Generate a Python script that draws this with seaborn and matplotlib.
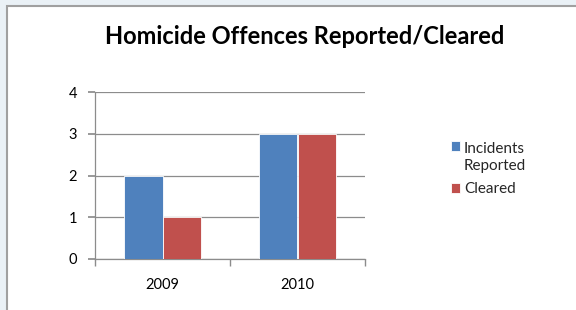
import matplotlib
matplotlib.use("Agg")
import matplotlib.pyplot as plt
import seaborn as sns
import pandas as pd
from matplotlib.patches import Rectangle

years = ["2009", "2010"]
series = ["Incidents\nReported", "Cleared"]
reported = [2, 3]
cleared = [1, 3]
colors = ["#4F81BD", "#C0504D"]

df = pd.DataFrame({
    "Year": years * 2,
    "Series": [series[0]] * 2 + [series[1]] * 2,
    "Value": reported + cleared,
})

sns.set_theme(style="white")
plt.rcParams["font.family"] = ["Lato", "DejaVu Sans"]

W, H = 576, 310
fig = plt.figure(figsize=(W / 100, H / 100), dpi=100)
fig.patch.set_facecolor("#EAF1F6")
fig.patches.append(Rectangle((6.5 / W, -0.1), 1.2, 1 - 5.5 / H + 0.1, transform=fig.transFigure,
                             facecolor="white", edgecolor="#A0A0A0", linewidth=1.5, zorder=-10))

ax = fig.add_axes([95 / W, 1 - 259 / H, 270 / W, 167 / H])
ax.set_facecolor("none")
sns.barplot(data=df, x="Year", y="Value", hue="Series", palette=colors, ax=ax,
            width=0.57, saturation=1, edgecolor="white", linewidth=0.6, zorder=3)

ax.set_ylim(0, 4)
ax.set_xlim(-0.5, 1.5)
ax.set_yticks([0, 1, 2, 3, 4])
ax.set_xticks([0, 1])
ax.set_xticks([-0.5, 0.5, 1.5], minor=True)
ax.set_xlabel("")
ax.set_ylabel("")
ax.yaxis.grid(True, color="#8C8C8C", linewidth=0.9, zorder=0)
ax.set_axisbelow(True)
for s in ["top", "right"]:
    ax.spines[s].set_visible(False)
for s in ["left", "bottom"]:
    ax.spines[s].set_color("#8C8C8C")
    ax.spines[s].set_linewidth(0.9)
ax.tick_params(axis="y", which="major", left=True, length=5, color="#8C8C8C", labelsize=10.5, pad=8, labelcolor="black")
ax.tick_params(axis="x", which="major", bottom=False, labelsize=10.5, pad=8, labelcolor="black")
ax.tick_params(axis="x", which="minor", bottom=True, length=5, color="#8C8C8C")

leg = ax.legend(loc="upper left", bbox_to_anchor=(443 / W, 1 - 134 / H), bbox_transform=fig.transFigure,
                frameon=False, fontsize=11, handlelength=0.62, handleheight=0.62, handletextpad=0.25,
                labelspacing=0.6, borderpad=0)
for t in leg.get_texts():
    t.set_linespacing(1.3)
# align the first swatch with the first line of its wrapped label
h0 = leg.legend_handles[0]
h0.set_y(h0.get_y() + 8)

fig.text(305 / W, 1 - 36 / H, "Homicide Offences Reported/Cleared", ha="center", va="center",
         fontsize=17, fontweight="bold", color="black")

fig.savefig("out.png", dpi=100, facecolor=fig.get_facecolor())
